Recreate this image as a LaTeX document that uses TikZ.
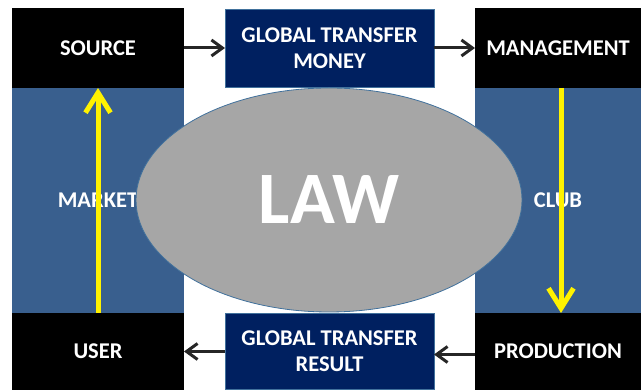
\documentclass[tikz,border=0pt]{standalone}
\usepackage{fontspec}
\setmainfont{Carlito}
\usepackage{tikz}
\usetikzlibrary{arrows.meta,shapes,positioning}
\definecolor{boxblue}{HTML}{395F8E}
\definecolor{navy}{HTML}{002060}
\definecolor{navyline}{HTML}{41719C}
\definecolor{lawgray}{HTML}{A6A6A6}
\definecolor{darkarrow}{HTML}{262626}

\begin{document}
\begin{tikzpicture}[x=1pt,y=1pt,
node distance=0pt,
font=\bfseries\fontsize{22.5}{26}\selectfont]

\tikzstyle{corner}=[rectangle, inner sep=0pt, outer sep=0pt, text centered,
fill=black, draw=none, text=white, minimum height=80pt]
\tikzstyle{side}=[corner, fill=boxblue, minimum height=225pt]
\tikzstyle{transfer}=[corner, fill=navy, draw=navyline, line width=0.8pt,
minimum width=209pt, align=center]
\tikzstyle{flow}=[-{Straight Barb[length=11pt,width=16pt]}, line width=3pt, draw=darkarrow]
\tikzstyle{loopline}=[-{Straight Barb[length=20pt,width=25pt]}, line width=5pt, draw=yellow]

\useasboundingbox (0,0) rectangle (642,390);

%top row
\node[corner, minimum width=172pt]
(source) at (98,342)
{SOURCE};

\node[transfer, minimum height=78pt]
(money) [right=41pt of source]
{GLOBAL TRANSFER\\MONEY};

\node[corner, minimum width=166pt]
(management) [right=41pt of money]
{MANAGEMENT};

%middle
\node[side, minimum width=172pt]
(market) [below=of source]
{MARKET};

\node[side, minimum width=166pt]
(club) [below=of management]
{CLUB};

%bottom row
\node[corner, minimum width=172pt, minimum height=77pt]
(user) [below=of market]
{USER};

\node[transfer, minimum height=76pt]
(result) [right=41pt of user]
{GLOBAL TRANSFER\\RESULT};

\node[corner, minimum width=166pt, minimum height=77pt]
(production) [below=of club]
{PRODUCTION};

\node[ellipse, inner sep=0pt, minimum width=386pt, minimum height=224pt,
fill=lawgray, draw=navyline, line width=0.8pt, text=white,
font=\bfseries\fontsize{74}{80}\selectfont]
(law) at (329,190)
{LAW};

\draw[flow] (source) -- (money);
\draw[flow] (money) -- (management);
\draw[flow] ([yshift=-3pt]production.west) -- ([yshift=-3pt]result.east);
\draw[flow] (result.west) -- (user.east);

\draw[loopline] (market.south) -- (source.south);
\draw[loopline] ([xshift=3pt]club.north) -- ([xshift=3pt]club.south);

\end{tikzpicture}
\end{document}
